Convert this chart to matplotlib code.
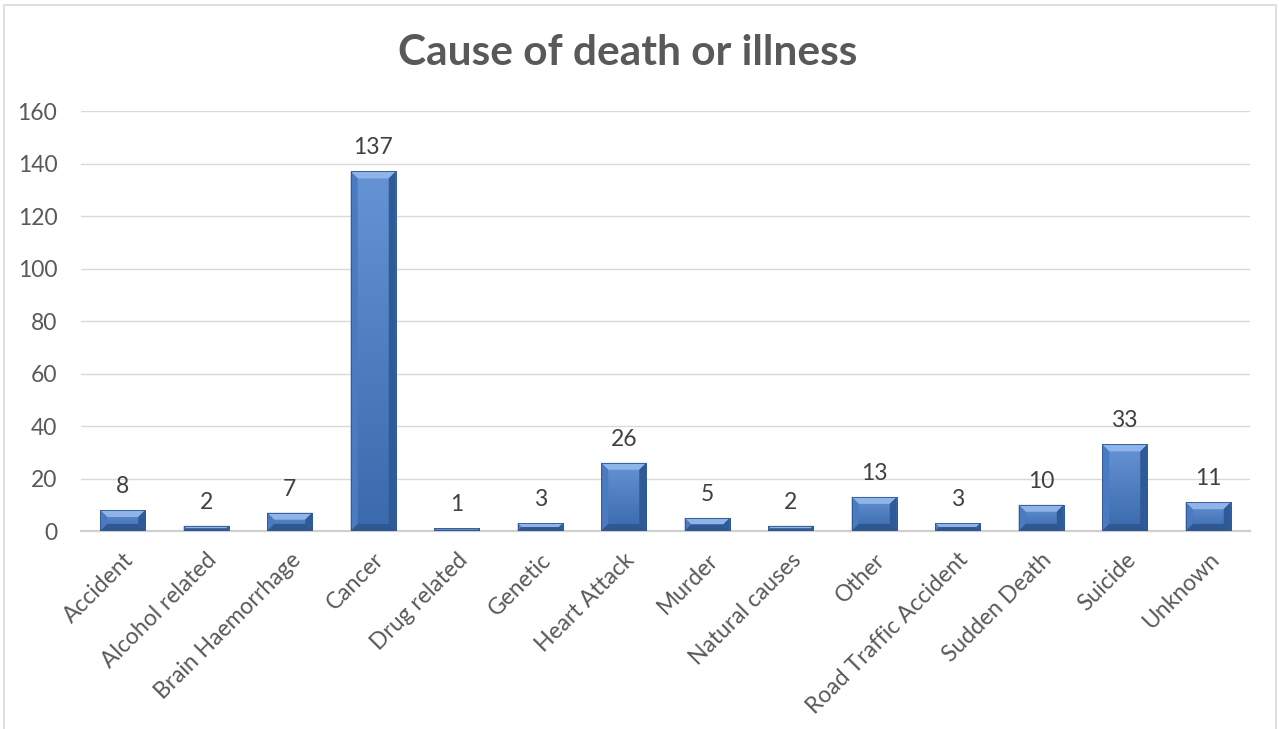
import numpy as np
import matplotlib.pyplot as plt
from matplotlib.patches import Polygon, Rectangle
from matplotlib.colors import LinearSegmentedColormap

# Data
causes = ['Accident', 'Alcohol related', 'Brain Haemorrhage', 'Cancer', 'Drug related',
          'Genetic', 'Heart Attack', 'Murder', 'Natural causes', 'Other',
          'Road Traffic Accident', 'Sudden Death', 'Suicide', 'Unknown']
counts = [8, 2, 7, 137, 1, 3, 26, 5, 2, 13, 3, 10, 33, 11]
y_ticks = [0, 20, 40, 60, 80, 100, 120, 140, 160]

plt.rcParams['font.family'] = ['Lato', 'DejaVu Sans']

fig = plt.figure(figsize=(12.79, 7.29), dpi=100)
fig.patches.append(Rectangle((0.0035, -0.01), 0.9945, 1.0025, transform=fig.transFigure,
                             fill=False, edgecolor='#d9d9d9', linewidth=1.2))
ax = fig.add_axes([0.0633, 0.2716, 0.9140, 0.5761])

x = list(range(len(causes)))
bars = ax.bar(x, counts, width=0.54, color='#4f7fc2', edgecolor='none', zorder=3)

ax.set_xlim(-0.5, len(causes) - 0.5)
ax.set_ylim(0, 160)
ax.set_yticks(y_ticks)
ax.set_xticks(x)
ax.set_xticklabels(causes, rotation=45, ha='right', va='top', rotation_mode='anchor')

grad_cmap = LinearSegmentedColormap.from_list('barfill', ['#3a69ad', '#6593d3'])
grad = np.linspace(0, 1, 64).reshape(-1, 1)

# bevel look, sizes in pixels converted to data units
fig.canvas.draw()
px_x = 1.0 / (ax.transData.transform((1, 0))[0] - ax.transData.transform((0, 0))[0])
px_y = 1.0 / (ax.transData.transform((0, 1))[1] - ax.transData.transform((0, 0))[1])
for b in bars:
    x0, y0 = b.get_x(), b.get_y()
    w, h = b.get_width(), b.get_height()
    x1, y1 = x0 + w, y0 + h
    img = ax.imshow(grad, cmap=grad_cmap, extent=(x0, x1, y0, y1), origin='lower',
                    aspect='auto', zorder=3.5, interpolation='bilinear')
    img.set_clip_path(b)
    d = min(7, h / px_y / 2)
    dx, dy = d * px_x, d * px_y
    ax.add_patch(Polygon([(x0, y1), (x1, y1), (x1 - dx, y1 - dy), (x0 + dx, y1 - dy)],
                         closed=True, facecolor='#8fb5e8', edgecolor='none', zorder=4))
    ax.add_patch(Polygon([(x0, y0), (x0, y1), (x0 + dx, y1 - dy), (x0 + dx, y0 + dy)],
                         closed=True, facecolor='#4a7bc0', edgecolor='none', zorder=4))
    ax.add_patch(Polygon([(x1, y0), (x1, y1), (x1 - dx, y1 - dy), (x1 - dx, y0 + dy)],
                         closed=True, facecolor='#2f5a98', edgecolor='none', zorder=4))
    ax.add_patch(Polygon([(x0, y0), (x1, y0), (x1 - dx, y0 + dy), (x0 + dx, y0 + dy)],
                         closed=True, facecolor='#2f5893', edgecolor='none', zorder=4))
    ax.add_patch(Rectangle((x0, y0), w, h, facecolor='none', edgecolor='#2d5490',
                           linewidth=0.6, zorder=4.5))
    ax.text(x0 + w / 2, y1 + 13 * px_y, str(int(h)), ha='center', va='bottom',
            fontsize=16.5, color='#404040', zorder=5)

ax.grid(axis='y', color='#d9d9d9', linewidth=1.0, zorder=0)
for s in ['top', 'right', 'left']:
    ax.spines[s].set_visible(False)
ax.spines['bottom'].set_color('#d0d0d0')
ax.spines['bottom'].set_linewidth(1.6)
ax.tick_params(axis='both', length=0, labelsize=16.5, labelcolor='#595959')
ax.tick_params(axis='y', pad=17)
ax.tick_params(axis='x', pad=13)

fig.text(0.491, 0.927, 'Cause of death or illness', ha='center', va='center',
         fontsize=30.5, fontweight='bold', color='#595959')

fig.savefig('out.png', dpi=100)
